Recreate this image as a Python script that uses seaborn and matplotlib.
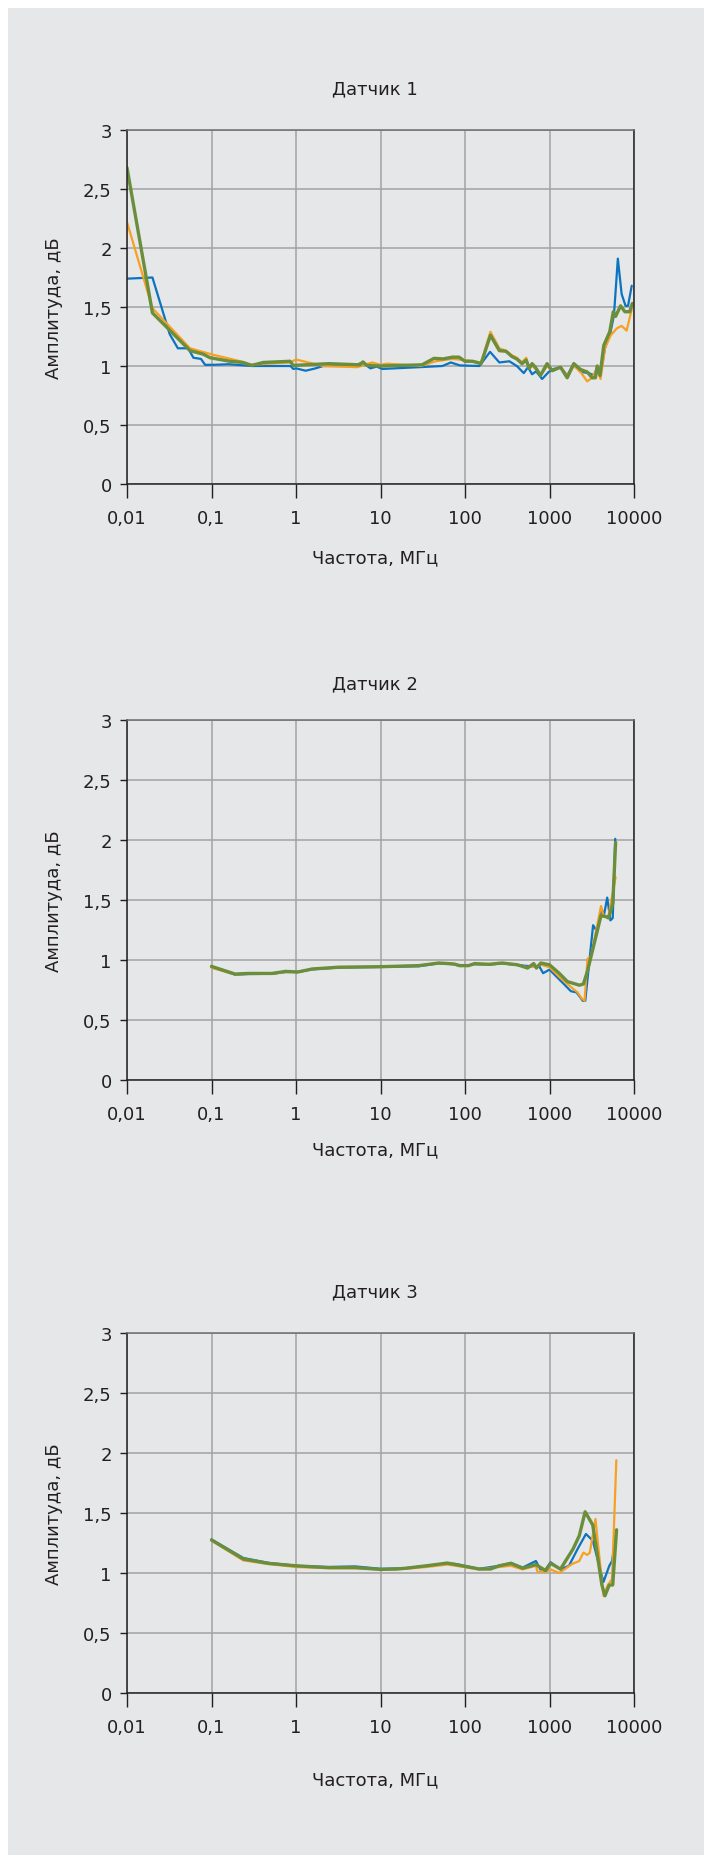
import numpy as np
import pandas as pd
import seaborn as sns
import matplotlib.pyplot as plt
from matplotlib.patches import Rectangle

# Датчик 1
s1_blue_x = [0.01, 0.02, 0.032, 0.04, 0.053, 0.061, 0.075, 0.084, 0.105, 0.16, 0.3, 0.62, 0.86, 0.93, 1.0, 1.3, 1.7, 2.1,
             4.8, 6.1, 7.6, 9.0, 10.5, 28.6, 54, 68, 87, 148, 198, 255, 335, 410, 496, 557, 622, 694, 818, 980, 1124,
             1350, 1620, 1940, 2330, 2930, 3350, 3670, 4020, 4530, 5290, 5790, 6440, 7140, 7940, 8500, 9400]
s1_blue_y = [1.74, 1.75, 1.27, 1.15, 1.15, 1.07, 1.06, 1.01, 1.01, 1.015, 1.0, 1.0, 1.0, 0.975, 0.98, 0.96, 0.98, 1.0,
             1.0, 1.03, 0.98, 0.995, 0.975, 0.99, 1.0, 1.03, 1.005, 1.0, 1.12, 1.03, 1.04, 1.0, 0.94, 0.99, 0.93, 0.955,
             0.89, 0.95, 0.975, 0.99, 0.92, 1.02, 0.95, 0.94, 0.92, 0.99, 0.93, 1.15, 1.29, 1.43, 1.91, 1.61, 1.51, 1.51,
             1.68]
s1_orange_x = [0.01, 0.02, 0.0557, 0.105, 0.22, 0.28, 0.85, 1.0, 2.1, 5.3, 8.0, 10, 12, 30, 45, 70, 100, 155, 200, 255,
               305, 360, 410, 473, 530, 575, 622, 700, 800, 936, 1074, 1350, 1620, 1940, 2330, 2790, 3200, 3670, 4020,
               4530, 5290, 6300, 7140, 8180, 9400]
s1_orange_y = [2.22, 1.49, 1.15, 1.095, 1.04, 1.01, 1.03, 1.055, 1.0, 0.99, 1.03, 1.01, 1.02, 1.0, 1.04, 1.06, 1.05,
               1.03, 1.29, 1.15, 1.13, 1.09, 1.07, 1.03, 1.07, 0.98, 1.0, 0.97, 0.93, 1.0, 0.96, 0.99, 0.92, 1.0, 0.95,
               0.87, 0.9, 0.98, 0.89, 1.15, 1.26, 1.32, 1.34, 1.3, 1.48]
s1_green_x = [0.01, 0.02, 0.0557, 0.08, 0.096, 0.165, 0.236, 0.3, 0.41, 0.85, 0.93, 2.45, 5.7, 6.2, 6.9, 10, 31, 43, 55,
              71, 85, 100, 123, 155, 200, 255, 305, 360, 410, 473, 530, 575, 622, 680, 782, 936, 1074, 1350, 1620,
              1940, 2330, 2790, 3200, 3500, 3670, 3960, 4390, 5160, 5690, 6050, 6940, 7800, 8900, 9550]
s1_green_y = [2.68, 1.45, 1.13, 1.1, 1.07, 1.04, 1.03, 1.005, 1.03, 1.04, 1.005, 1.02, 1.01, 1.035, 1.005, 1.0, 1.01,
              1.065, 1.06, 1.075, 1.075, 1.04, 1.04, 1.02, 1.26, 1.13, 1.125, 1.08, 1.06, 1.02, 1.05, 0.98, 1.02, 0.99,
              0.92, 1.02, 0.96, 0.99, 0.9, 1.02, 0.97, 0.95, 0.9, 0.9, 1.0, 0.92, 1.175, 1.29, 1.46, 1.42, 1.51, 1.46,
              1.46, 1.53]

# Датчик 2
s2_blue_x = [0.1, 0.19, 0.27, 0.52, 0.75, 1.05, 1.55, 3.2, 10, 28.5, 49, 74, 87, 110, 130, 193, 275, 418, 550, 760, 840,
             1000, 1430, 1790, 2090, 2480, 2650, 3280, 3630, 4140, 4400, 4820, 5260, 5600, 6000]
s2_blue_y = [0.94, 0.878, 0.883, 0.885, 0.9, 0.9, 0.922, 0.937, 0.942, 0.948, 0.972, 0.965, 0.95, 0.955, 0.965, 0.962,
             0.972, 0.958, 0.95, 0.945, 0.89, 0.92, 0.81, 0.74, 0.73, 0.66, 0.66, 1.29, 1.24, 1.425, 1.37, 1.52, 1.33,
             1.35, 2.01]
s2_orange_x = [0.1, 0.19, 0.27, 0.52, 0.75, 1.05, 1.55, 3.2, 10, 28.5, 49, 74, 87, 110, 130, 193, 275, 418, 550, 700,
               800, 1000, 1300, 1900, 2150, 2400, 2600, 2820, 3100, 4070, 4400, 5000, 6060]
s2_orange_y = [0.935, 0.88, 0.885, 0.885, 0.9, 0.9, 0.925, 0.94, 0.944, 0.955, 0.975, 0.965, 0.95, 0.955, 0.968, 0.962,
               0.972, 0.958, 0.94, 0.95, 0.96, 0.94, 0.86, 0.76, 0.73, 0.68, 0.66, 1.01, 1.03, 1.45, 1.36, 1.37, 1.69]
s2_green_x = [0.1, 0.19, 0.27, 0.52, 0.75, 1.05, 1.55, 3.2, 10, 28.5, 49, 74, 87, 110, 130, 193, 275, 418, 550, 650,
              700, 790, 1000, 1300, 1630, 2260, 2520, 2820, 4070, 4700, 5000, 5610, 6060]
s2_green_y = [0.947, 0.883, 0.888, 0.888, 0.905, 0.9, 0.925, 0.94, 0.944, 0.953, 0.975, 0.967, 0.953, 0.953, 0.97,
              0.964, 0.975, 0.96, 0.933, 0.97, 0.933, 0.975, 0.96, 0.89, 0.82, 0.79, 0.8, 0.91, 1.37, 1.36, 1.35, 1.47,
              1.98]

# Датчик 3
s3_blue_x = [0.1, 0.238, 0.47, 1.0, 2.4, 5.0, 10, 20, 35, 61.7, 78, 147, 253, 350, 480, 690, 780, 900, 1030, 1350, 1700,
             2150, 2700, 3250, 4350, 5100, 5500, 6220]
s3_blue_y = [1.28, 1.125, 1.085, 1.06, 1.05, 1.055, 1.035, 1.04, 1.06, 1.08, 1.075, 1.035, 1.06, 1.085, 1.045, 1.1,
             1.03, 1.03, 1.09, 1.03, 1.06, 1.2, 1.325, 1.27, 0.925, 1.06, 1.1, 1.35]
s3_orange_x = [0.1, 0.238, 0.47, 1.0, 2.4, 5.0, 10, 20, 35, 61.7, 78, 147, 253, 350, 480, 690, 720, 900, 1030, 1300,
               1850, 2250, 2520, 2800, 3000, 3500, 3700, 4350, 4900, 5500, 6180]
s3_orange_y = [1.27, 1.105, 1.075, 1.05, 1.04, 1.04, 1.03, 1.035, 1.05, 1.07, 1.06, 1.03, 1.05, 1.06, 1.03, 1.06, 1.01,
               1.01, 1.03, 1.0, 1.075, 1.1, 1.17, 1.15, 1.17, 1.45, 1.28, 0.81, 0.9, 0.95, 1.94]
s3_green_x = [0.1, 0.238, 0.47, 1.0, 2.4, 5.0, 10, 15.6, 20, 35, 61.7, 78, 147, 200, 253, 350, 480, 690, 900, 1030,
              1350, 1900, 2250, 2640, 3250, 4170, 4530, 5100, 5600, 6220]
s3_green_y = [1.275, 1.117, 1.08, 1.06, 1.045, 1.045, 1.03, 1.033, 1.04, 1.06, 1.083, 1.07, 1.033, 1.033, 1.06, 1.08,
              1.04, 1.07, 1.02, 1.08, 1.033, 1.2, 1.31, 1.51, 1.4, 0.9, 0.81, 0.9, 0.9, 1.36]

titles = ['Датчик 1', 'Датчик 2', 'Датчик 3']
x_ticks = [0.01, 0.1, 1, 10, 100, 1000, 10000]
x_tick_labels = ['0,01', '0,1', '1', '10', '100', '1000', '10000']
y_ticks = [0, 0.5, 1, 1.5, 2, 2.5, 3]
y_tick_labels = ['0', '0,5', '1', '1,5', '2', '2,5', '3']

panels = [
    [(s1_blue_x, s1_blue_y), (s1_orange_x, s1_orange_y), (s1_green_x, s1_green_y)],
    [(s2_blue_x, s2_blue_y), (s2_orange_x, s2_orange_y), (s2_green_x, s2_green_y)],
    [(s3_blue_x, s3_blue_y), (s3_orange_x, s3_orange_y), (s3_green_x, s3_green_y)],
]

bg = '#e6e7e8'
dark = '#231f20'
colors = ['#0a73c2', '#f7a022', '#6b8e3c']
widths = [1.6, 1.6, 2.4]

sns.set_theme(style='white')
plt.rcParams['font.family'] = ['DejaVu Sans']
plt.rcParams['text.color'] = dark
fs = 13

W, H = 704, 1856
fig = plt.figure(figsize=(W / 100, H / 100), dpi=100, facecolor='white')
# grey card behind everything (white strip on top and left)
fig.patches.append(Rectangle((8 / W, 0), 1, 1 - 9 / H, transform=fig.transFigure,
                             facecolor=bg, edgecolor='none', zorder=-10))

# axes boxes in pixels: (top, bottom)
boxes = [(131, 485), (721, 1081), (1334, 1694)]
title_gap = [42, 37, 42]
xlabel_gap = [73, 69, 86]
left, right = 127, 634

for i, (top, bottom) in enumerate(boxes):
    ax = fig.add_axes([left / W, 1 - bottom / H, (right - left) / W, (bottom - top) / H])
    ax.set_facecolor(bg)

    for (xs, ys), c, lw in zip(panels[i], colors, widths):
        df = pd.DataFrame({'f': xs, 'a': ys})
        sns.lineplot(data=df, x='f', y='a', ax=ax, color=c, linewidth=lw, estimator=None, sort=False)

    ax.set_xscale('log')
    ax.set_xlim(0.01, 10000)
    ax.set_ylim(0, 3)
    ax.set_xticks(x_ticks)
    ax.set_xticklabels(x_tick_labels)
    ax.set_yticks(y_ticks)
    ax.set_yticklabels(y_tick_labels)
    ax.minorticks_off()
    ax.grid(True, color='#a3a3a3', linewidth=1.1)
    ax.set_axisbelow(True)

    ax.tick_params(axis='x', which='major', length=10, width=1, color=dark, direction='out',
                   pad=8, labelsize=fs, labelcolor=dark, bottom=True)
    ax.tick_params(axis='y', which='major', length=5, width=1, color=dark, direction='out',
                   pad=6, labelsize=fs, labelcolor=dark, left=True)
    for s in ['left', 'bottom', 'right']:
        ax.spines[s].set_color(dark)
        ax.spines[s].set_linewidth(1.1)
    ax.spines['top'].set_color('#6d6d6d')
    ax.spines['top'].set_linewidth(1.1)

    h = bottom - top
    ax.set_xlabel('Частота, МГц', fontsize=fs, color=dark)
    ax.xaxis.set_label_coords(0.489, -xlabel_gap[i] / h)
    ax.xaxis.label.set_va('center')
    ax.set_ylabel('Амплитуда, дБ', fontsize=fs, color=dark)
    ax.yaxis.set_label_coords(-73 / (right - left), 0.5)
    ax.yaxis.label.set_va('center')
    ax.text(0.489, 1 + title_gap[i] / h, titles[i], transform=ax.transAxes,
            ha='center', va='center', fontsize=fs, color=dark)

plt.savefig('out.png', dpi=100, facecolor='white')
